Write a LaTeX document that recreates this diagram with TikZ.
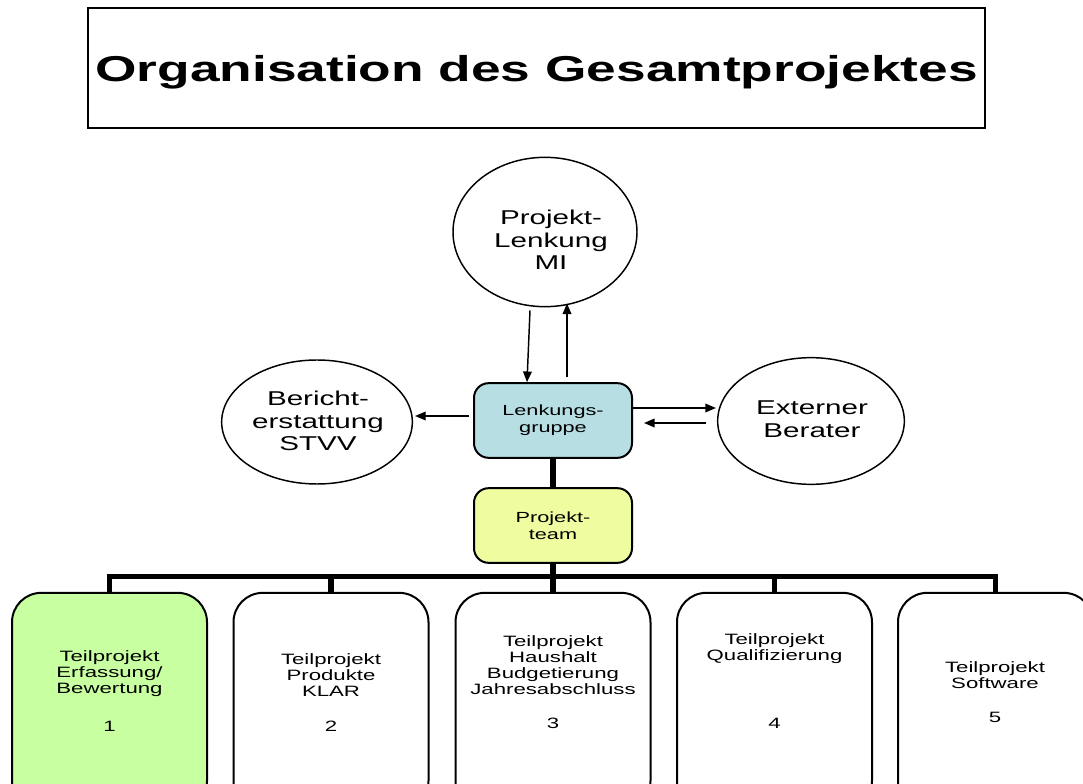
\documentclass[tikz,border=0pt]{standalone}
\usepackage{fontspec}
\setmainfont{Liberation Sans}[FakeStretch=1.48]
\usetikzlibrary{shapes.geometric,arrows.meta,calc}
\definecolor{lgblue}{RGB}{183,223,227}
\definecolor{ptyellow}{RGB}{240,252,160}
\definecolor{tpgreen}{RGB}{200,255,160}
\tikzset{
  circ/.style={ellipse,draw,line width=1.1pt,inner sep=0pt},
  ctext/.style={align=center,inner sep=0pt,font=\fontsize{15}{17}\selectfont},
  smallbox/.style={draw,line width=1.5pt,rounded corners=11pt,minimum width=118.5pt,
    minimum height=56pt,align=center,font=\fontsize{11}{12.5}\selectfont},
  tpbox/.style={draw,line width=1.5pt,rounded corners=22pt,minimum width=146.25pt,
    minimum height=163pt,fill=white},
  tptext/.style={align=center,font=\fontsize{11.25}{12}\selectfont,inner sep=0pt},
  arr/.style={line width=1.1pt,-{Triangle[length=8pt,width=6.5pt]}},
  bus/.style={line width=3.8pt}
}
\begin{document}
\begin{tikzpicture}[x=0.75pt,y=-0.75pt]
\useasboundingbox (0,0) rectangle (1083,784);
\fill[white] (0,0) rectangle (1083,784);
\clip (0,0) rectangle (1083,784);
% title
\node[draw,line width=1.1pt,minimum width=672.75pt,minimum height=90pt] (title) at (536.5,68) {};
\node[inner sep=0pt,font=\fontsize{27}{30}\selectfont\bfseries] at (536.5,72) {Organisation des Gesamtprojektes};
% ellipses
\node[circ,minimum width=138pt,minimum height=112pt] (pl) at (545,232) {};
\node[ctext] at (551,240) {Projekt-\\Lenkung\\MI};
\node[circ,minimum width=143pt,minimum height=93pt] (ber) at (317,422) {};
\node[ctext] at (318,421) {Bericht-\\erstattung\\STVV};
\node[circ,minimum width=140pt,minimum height=95pt] (ext) at (811,421) {};
\node[ctext] at (812,419) {Externer\\Berater};
% boxes
\node[smallbox,fill=lgblue] (lg) at (553,420.5) {Lenkungs-\\gruppe};
\node[smallbox,fill=ptyellow] (pt) at (553,525.5) {Projekt-\\team};
% arrows
\draw[arr] ($(pl.south)+(-15,3)$) -- ($(lg.north)+(-26,0)$);
\draw[arr] ($(lg.north)+(14,-5)$) -- ($(pl.south)+(22,-4)$);
\draw[arr] ($(lg.west)+(-4,-4.5)$) -- ($(ber.east)+(2,-6)$);
\draw[arr] ($(lg.east)+(-2,-12.5)$) -- ($(ext.west)+(-1,-13)$);
\draw[arr] ($(ext.west)+(-11,2)$) -- ($(lg.east)+(11,2.5)$);
% bottom boxes
\node[tpbox,fill=tpgreen] (t1) at (109.5,701.5) {};
\node[tpbox] (t2) at (331,701.5) {};
\node[tpbox] (t3) at (553,701.5) {};
\node[tpbox] (t4) at (774.5,701.5) {};
\node[tpbox] (t5) at (995.5,701.5) {};
% tree lines
\draw[bus] (lg.south) -- (pt.north);
\draw[bus] (pt.south) -- (pt.south |- 0,578);
\draw[bus,line join=miter] (t1.north) -- ++(0,-15) -| (t5.north);
\draw[bus] (t2.north) -- ++(0,-15);
\draw[bus] (t3.north) -- ++(0,-15);
\draw[bus] (t4.north) -- ++(0,-15);
% texts
\node[tptext] at (t1.north |- 0,674) {Teilprojekt\\Erfassung/\\Bewertung};
\node[tptext] at (t1.north |- 0,726) {1};
\node[tptext] at (t2.north |- 0,675) {Teilprojekt\\Produkte\\KLAR};
\node[tptext] at (t2.north |- 0,726) {2};
\node[tptext] at (t3.north |- 0,665) {Teilprojekt\\Haushalt\\Budgetierung\\Jahresabschluss};
\node[tptext] at (t3.north |- 0,723) {3};
\node[tptext] at (t4.north |- 0,649) {Teilprojekt\\Qualifizierung};
\node[tptext] at (t4.north |- 0,723) {4};
\node[tptext] at (995,675) {Teilprojekt\\Software};
\node[tptext] at (995,717) {5};
\end{tikzpicture}
\end{document}
